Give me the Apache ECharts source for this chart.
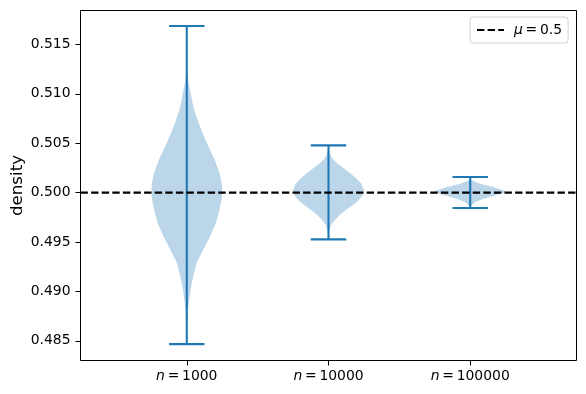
<!DOCTYPE html>
<html>
<head>
<meta charset="utf-8">
<script src="https://cdn.jsdelivr.net/npm/echarts@6/dist/echarts.min.js"></script>
<style>
html,body{margin:0;padding:0;background:#fff;}
#chart{width:586px;height:394px;}
</style>
</head>
<body>
<div id="chart"></div>
<script>
// ---- data ----
const positions = [1, 2, 3];
const sampleSizes = [1000, 10000, 100000];
const violinMins = [0.48466, 0.49527, 0.49844];
const violinMaxs = [0.51688, 0.50479, 0.50158];

// density profiles: value on y, relative half-width (max = 1)
const v1Values = [0.51688, 0.5127, 0.5114, 0.5101, 0.5086, 0.5073, 0.5060, 0.5046, 0.5033, 0.5019, 0.5009, 0.5000, 0.4995, 0.4982, 0.4969, 0.4955, 0.4942, 0.4929, 0.4915, 0.4902, 0.4889, 0.4879, 0.4866, 0.48466];
const v1Widths = [0.0, 0.01, 0.035, 0.11, 0.19, 0.31, 0.45, 0.62, 0.79, 0.93, 0.99, 1.0, 0.99, 0.92, 0.82, 0.65, 0.46, 0.28, 0.18, 0.11, 0.06, 0.03, 0.01, 0.0];
const v2Values = [0.50479, 0.50440, 0.50395, 0.50345, 0.50294, 0.50243, 0.50193, 0.50142, 0.50091, 0.50023, 0.49973, 0.49922, 0.49871, 0.49821, 0.49770, 0.49719, 0.49669, 0.49618, 0.49570, 0.49527];
const v2Widths = [0.0, 0.01, 0.04, 0.11, 0.25, 0.45, 0.62, 0.79, 0.93, 1.0, 0.96, 0.85, 0.68, 0.48, 0.31, 0.17, 0.07, 0.03, 0.01, 0.0];
const v3Values = [0.50158, 0.50140, 0.50122, 0.50087, 0.50054, 0.50020, 0.50003, 0.49970, 0.49935, 0.49902, 0.49868, 0.49855, 0.49844];
const v3Widths = [0.0, 0.01, 0.05, 0.30, 0.67, 0.98, 1.0, 0.70, 0.36, 0.14, 0.03, 0.01, 0.0];

const muValue = 0.5;
const yTicks = [0.485, 0.490, 0.495, 0.500, 0.505, 0.510, 0.515];
const yLimits = [0.48300, 0.518445];
const xLimits = [0.25, 3.75];
const yLabel = 'density';

// ---- chart ----
const profileValues = [v1Values, v2Values, v3Values];
const profileWidths = [v1Widths, v2Widths, v3Widths];
const blue = '#1f77b4';
const font = 'DejaVu Sans';
const halfW = 0.25, capW = 0.125;
const thin = '\u2009';

function renderViolin(params, api) {
  const i = api.value(0);
  const pos = positions[i];
  const vals = profileValues[i], ws = profileWidths[i];
  const pts = [];
  for (let k = 0; k < vals.length; k++) pts.push(api.coord([pos + halfW * ws[k], vals[k]]));
  for (let k = vals.length - 1; k >= 0; k--) pts.push(api.coord([pos - halfW * ws[k], vals[k]]));
  const top = api.coord([pos, violinMaxs[i]]);
  const bot = api.coord([pos, violinMins[i]]);
  const capL = api.coord([pos - capW, violinMaxs[i]])[0];
  const capR = api.coord([pos + capW, violinMaxs[i]])[0];
  const ls = {stroke: blue, lineWidth: 2.1};
  return {
    type: 'group',
    children: [
      {type: 'polygon', shape: {points: pts}, style: {fill: 'rgba(31,119,180,0.3)'}},
      {type: 'line', shape: {x1: top[0], y1: top[1], x2: bot[0], y2: bot[1]}, style: ls},
      {type: 'line', shape: {x1: capL, y1: top[1], x2: capR, y2: top[1]}, style: ls},
      {type: 'line', shape: {x1: capL, y1: bot[1], x2: capR, y2: bot[1]}, style: ls}
    ]
  };
}

const chart = echarts.init(document.getElementById('chart'), null, {renderer: 'canvas'});
chart.setOption({
  animation: false,
  backgroundColor: '#fff',
  textStyle: {fontFamily: font},
  grid: {left: 80.5, right: 9.5, top: 10.5, bottom: 33.5, show: true, borderColor: '#000', borderWidth: 1, backgroundColor: 'transparent', outerBoundsMode: 'none'},
  xAxis: {
    type: 'value', min: xLimits[0], max: xLimits[1],
    axisLine: {show: false},
    splitLine: {show: false},
    axisTick: {show: true, length: 5, customValues: positions, lineStyle: {color: '#000', width: 1}},
    axisLabel: {
      customValues: positions, margin: 9, color: '#000', fontSize: 13.9, fontFamily: font,
      formatter: function (v) {
        const idx = positions.indexOf(Math.round(v));
        return '{i|n}{r|' + thin + '=' + thin + sampleSizes[idx] + '}';
      },
      rich: {
        i: {fontStyle: 'italic', fontSize: 13.9, fontFamily: font, color: '#000'},
        r: {fontSize: 13.9, fontFamily: font, color: '#000'}
      }
    }
  },
  yAxis: {
    type: 'value', min: yLimits[0], max: yLimits[1],
    name: yLabel, nameLocation: 'middle', nameGap: 54, nameMoveOverlap: false,
    nameTextStyle: {fontSize: 16.7, color: '#000', fontFamily: font},
    axisLine: {show: false},
    splitLine: {show: false},
    axisTick: {show: true, length: 5, customValues: yTicks, lineStyle: {color: '#000', width: 1}},
    axisLabel: {
      customValues: yTicks, margin: 10, color: '#000', fontSize: 13.9, fontFamily: font,
      formatter: function (v) { return v.toFixed(3); }
    }
  },
  legend: {
    show: true, left: 470, top: 17,
    padding: [6, 6, 6, 6],
    itemWidth: 27, itemHeight: 14,
    borderColor: '#d3d3d3', borderWidth: 1, borderRadius: 3,
    backgroundColor: 'rgba(255,255,255,0.8)',
    itemStyle: {opacity: 0, color: 'transparent', borderWidth: 0},
    data: ['mu'],
    formatter: function () { return '{s|}{i|μ}{r|' + thin + '=' + thin + muValue + '}'; },
    textStyle: {
      color: '#000', fontSize: 13.9, fontFamily: font,
      rich: {
        s: {width: 5},
        i: {fontStyle: 'italic', fontSize: 13.9, fontFamily: font, color: '#000'},
        r: {fontSize: 13.9, fontFamily: font, color: '#000'}
      }
    }
  },
  series: [
    {
      type: 'custom', name: 'violins', z: 2, silent: true,
      renderItem: renderViolin,
      data: positions.map(function (p, i) { return [i]; }),
      encode: {x: -1, y: -1}
    },
    {
      type: 'line', name: 'mu', z: 3, silent: true,
      symbol: 'none',
      data: [[xLimits[0], muValue], [xLimits[1], muValue]],
      lineStyle: {color: '#000', width: 2.1, type: [7.4, 3.2]},
      itemStyle: {color: '#000'}
    }
  ]
});
</script>
</body>
</html>
